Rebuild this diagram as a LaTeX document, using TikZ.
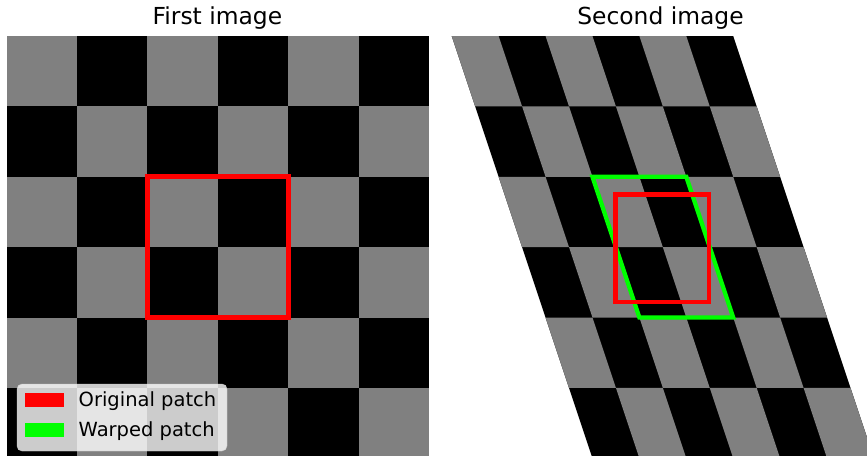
\documentclass[tikz,border=0pt]{standalone}
\usepackage{fontspec}
\setmainfont{DejaVu Sans}
\usepackage{xcolor}

\definecolor{boardgray}{RGB}{128,128,128}
\definecolor{patchred}{RGB}{255,0,0}
\definecolor{patchgreen}{RGB}{0,255,0}

\begin{document}
\begin{tikzpicture}[x=1pt,y=-1pt]

    \useasboundingbox (0,0) rectangle (867,455);
    \clip (0,0) rectangle (867,455);

    \def\cell{70.38}

    % Titles
    \node[font=\fontsize{23.4}{28}\selectfont, anchor=base] (firsttitle) at (217.4,24.3) {First image};
    \node[font=\fontsize{23.4}{28}\selectfont, anchor=base] (secondtitle) at (660.5,24.3) {Second image};

    % Draw the first board
    \begin{scope}[shift={(6.7,36)}]
    \fill[black] (0,0) rectangle (6*\cell,6*\cell);
    \foreach \i in {0,...,5} {
        \foreach \j in {0,...,5} {
            \ifodd\numexpr\i+\j\relax\else
                \fill[boardgray] (\i*\cell,\j*\cell) rectangle ({(\i+1)*\cell},{(\j+1)*\cell});
            \fi
        }
    }
    \draw[patchred, line width=5, line join=miter] (2*\cell,2*\cell) rectangle (4*\cell,4*\cell);
    \end{scope}

    % Second board, sheared copy of the first
    \begin{scope}[shift={(451.7,36)}, cm={2/3,0,-1/3,1,(0,0)}]
    \fill[black] (0,0) rectangle (6*\cell,6*\cell);
    \foreach \i in {0,...,5} {
        \foreach \j in {0,...,5} {
            \ifodd\numexpr\i+\j\relax\else
                \fill[boardgray] (\i*\cell,\j*\cell) rectangle ({(\i+1)*\cell},{(\j+1)*\cell});
            \fi
        }
    }
    \draw[patchgreen, line width=4.3, line join=miter] (2*\cell,2*\cell) rectangle (4*\cell,4*\cell);
    \end{scope}

    \draw[patchred, line width=4.6, line join=miter] (615.5,194.2) rectangle (709,302);

    % Legend
    \draw[rounded corners=5, draw=black!20, fill=white, fill opacity=0.8] (17,384) rectangle (227,451);
    \fill[patchred] (24.7,392.8) rectangle (64.3,407.2);
    \fill[patchgreen] (24.7,423) rectangle (64.3,437.4);
    \node[font=\fontsize{19.5}{23}\selectfont, anchor=base west, inner sep=0] (origlabel) at (78.5,406) {Original patch};
    \node[font=\fontsize{19.5}{23}\selectfont, anchor=base west, inner sep=0] (warplabel) at (78.5,436) {Warped patch};

\end{tikzpicture}
\end{document}
